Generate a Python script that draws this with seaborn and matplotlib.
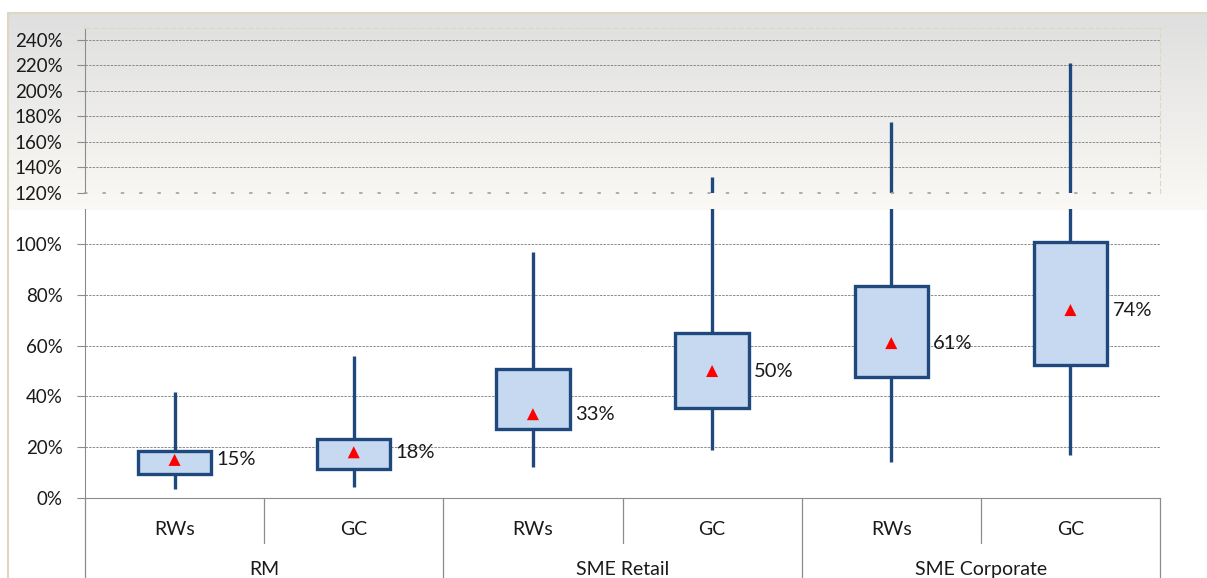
import numpy as np
import pandas as pd
import matplotlib
matplotlib.use("Agg")
import matplotlib.pyplot as plt
import matplotlib.transforms as mtransforms
from matplotlib.lines import Line2D
import seaborn as sns

# values (in %)
groups = ["RM", "SME Retail", "SME Corporate"]
measures = ["RWs", "GC"]
whisker_low = [3.5, 4.3, 12.2, 18.9, 14.3, 17.0]
q1 = [9.4, 11.5, 27.2, 35.4, 47.6, 52.4]
q3 = [18.6, 23.2, 50.8, 65.0, 83.5, 100.8]
whisker_high = [41.9, 55.9, 96.9, 132.5, 175.9, 222.2]
means = [15, 18, 33, 50, 61, 74]
low_ticks = [0, 20, 40, 60, 80, 100]
high_ticks = [120, 140, 160, 180, 200, 220, 240]

FILL = "#c6d9f1"
DARK = "#1f497d"
GRID = "#8c8c8c"
BEIGE = "#ddd8c3"
TXT = "#1a1a1a"

sns.set_style("white")
plt.rcParams["font.family"] = ["Lato", "DejaVu Sans"]

box_keys = [f"{g} {m}" for g in groups for m in measures]
rows = []
for i, k in enumerate(box_keys):
    for v in [whisker_low[i], q1[i], means[i], q3[i], whisker_high[i]]:
        rows.append({"box": k, "value": v})
df = pd.DataFrame(rows)

W, H = 1207, 578
fig = plt.figure(figsize=(W / 100, H / 100), dpi=100)

# gradient panel behind the upper (broken) part
bg = fig.add_axes([8 / W, 1 - 210 / H, 1 - 8 / W, 197 / H])
top_c = np.array([223, 223, 223]) / 255
bot_c = np.array([250, 249, 245]) / 255
t = np.linspace(0, 1, 200)[:, None]
grad = top_c[None, :] * (1 - t) + bot_c[None, :] * t
bg.imshow(grad[:, None, :], aspect="auto", extent=[0, 1, 0, 1])
bg.axis("off")
fig.add_artist(Line2D([8 / W, 1], [1 - 13 / H] * 2, color=BEIGE, lw=1.5))
fig.add_artist(Line2D([8 / W] * 2, [0, 1 - 13 / H], color=BEIGE, lw=1.5))

ax_hi = fig.add_axes([85 / W, 1 - 193 / H, 1075 / W, 165 / H])
ax_lo = fig.add_axes([85 / W, 1 - 498 / H, 1075 / W, 289 / H])


def draw_boxes(ax):
    sns.boxplot(data=df, x="box", y="value", order=box_keys, whis=(0, 100),
                width=0.41, color=FILL, saturation=1, linecolor=DARK,
                linewidth=2.4, showcaps=False, medianprops=dict(linewidth=0),
                ax=ax)
    ax.set_xlim(-0.5, 5.5)
    ax.set_xlabel("")
    ax.set_ylabel("")
    ax.set_axisbelow(True)
    ax.grid(axis="y", color=GRID, linestyle=(0, (2.5, 1.2)), lw=0.7)
    ax.grid(axis="x", visible=False)
    ax.tick_params(axis="y", direction="out", length=6, width=0.8, color=GRID,
                   pad=10, labelsize=13.5, labelcolor=TXT, left=True)
    ax.set_facecolor("none")


# upper part: 120% - 250%
draw_boxes(ax_hi)
ax_hi.set_ylim(120, 249.4)
ax_hi.set_yticks(high_ticks, labels=[f"{v}%" for v in high_ticks])
ax_hi.set_xticks([])
for s in ["top", "right"]:
    ax_hi.spines[s].set_color(BEIGE)
    ax_hi.spines[s].set_linestyle((0, (4, 3)))
ax_hi.spines["left"].set_color(GRID)
ax_hi.spines["bottom"].set_color("#a0a0a0")
ax_hi.spines["bottom"].set_linestyle((0, (1, 10)))
ax_hi.spines["bottom"].set_linewidth(1.2)

# lower part: 0% - ~114%
draw_boxes(ax_lo)
ax_lo.set_ylim(0, 113.8)
ax_lo.set_yticks(low_ticks, labels=[f"{v}%" for v in low_ticks])
ax_lo.set_xticks([])
ax_lo.spines["top"].set_visible(False)
ax_lo.spines["right"].set_visible(False)
ax_lo.spines["left"].set_color(GRID)
ax_lo.spines["bottom"].set_color(GRID)

sns.scatterplot(x=np.arange(len(means)), y=means, marker="^", color="red",
                s=75, edgecolor="none", ax=ax_lo, zorder=5)
for i, m in enumerate(means):
    ax_lo.text(i + 0.235, m, f"{m}%", va="center", ha="left", fontsize=14.5,
               color=TXT)

# two-level category axis
trans = mtransforms.blended_transform_factory(ax_lo.transData, ax_lo.transAxes)
for i, k in enumerate(box_keys):
    ax_lo.text(i, -0.128, measures[i % 2], ha="center", va="baseline",
               fontsize=14, color=TXT, transform=trans)
for x in [0.5, 2.5, 4.5]:
    ax_lo.plot([x, x], [0, -0.156], color=GRID, lw=0.9, transform=trans,
               clip_on=False)
for x in [-0.5, 1.5, 3.5, 5.5]:
    ax_lo.plot([x, x], [0, -0.3], color=GRID, lw=0.9, transform=trans,
               clip_on=False)
for j, g in enumerate(groups):
    ax_lo.text(2 * j + 0.5, -0.268, g, ha="center", va="baseline",
               fontsize=14, color=TXT, transform=trans)

fig.savefig("out.png", dpi=100)
